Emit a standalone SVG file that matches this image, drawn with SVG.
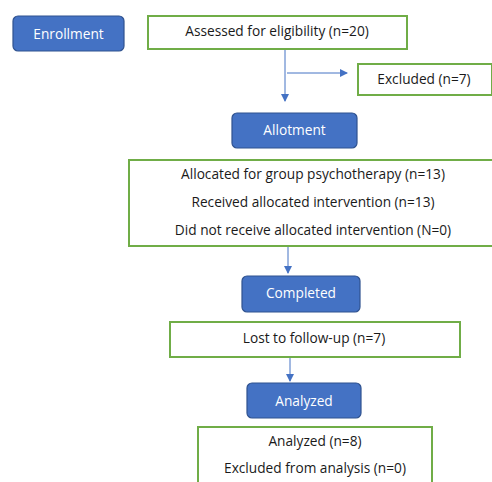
<svg xmlns="http://www.w3.org/2000/svg" width="492" height="482" viewBox="0 0 492 482">
<style>
.blue{fill:#4472C4;stroke:#2F528F;stroke-width:1.2}
.green{fill:#fff;stroke:#70AD47;stroke-width:2}
.wt{fill:#fff;font-family:"Open Sans","Liberation Sans",Arial,sans-serif;font-size:13.7px;text-anchor:middle}
.bt{fill:#1a1a1a;font-family:"Open Sans","Liberation Sans",Arial,sans-serif;font-size:13.7px;text-anchor:middle}
.ln{stroke:#4472C4;stroke-width:1;fill:none}
</style>
<defs>
<marker id="ah" markerWidth="8" markerHeight="8" refX="7" refY="4" orient="auto" markerUnits="userSpaceOnUse">
<path d="M0,0 L8,4 L0,8 z" fill="#4472C4"/>
</marker>
</defs>
<rect width="492" height="482" fill="#fff"/>
<g id="connectors">
<line class="ln" x1="285" y1="50" x2="285" y2="101" marker-end="url(#ah)"/>
<line class="ln" x1="287" y1="73" x2="347" y2="73" marker-end="url(#ah)"/>
<line class="ln" x1="288" y1="246" x2="288" y2="273" marker-end="url(#ah)"/>
<line class="ln" x1="290" y1="357" x2="290" y2="381" marker-end="url(#ah)"/>
</g>
<g id="enrollment">
<rect class="blue" x="13" y="16" width="111" height="35" rx="5"/>
<text class="wt" x="68.5" y="38.5">Enrollment</text>
</g>
<g id="assessed">
<rect class="green" x="148" y="16" width="259" height="33"/>
<text class="bt" x="277" y="35.5">Assessed for eligibility (n=20)</text>
</g>
<g id="excluded">
<rect class="green" x="358" y="64" width="134" height="31"/>
<text class="bt" x="424" y="84">Excluded (n=7)</text>
</g>
<g id="allotment">
<rect class="blue" x="232" y="113" width="125" height="35" rx="5"/>
<text class="wt" x="294.5" y="134.5">Allotment</text>
</g>
<g id="allocated">
<rect class="green" x="129" y="160" width="370" height="86"/>
<text class="bt" x="313" y="179">Allocated for group psychotherapy (n=13)</text>
<text class="bt" x="313" y="207">Received allocated intervention (n=13)</text>
<text class="bt" x="313" y="235">Did not receive allocated intervention (N=0)</text>
</g>
<g id="completed">
<rect class="blue" x="242" y="276" width="118" height="36" rx="5"/>
<text class="wt" x="301" y="297.5">Completed</text>
</g>
<g id="lost">
<rect class="green" x="170" y="322" width="290" height="35"/>
<text class="bt" x="314" y="343">Lost to follow-up (n=7)</text>
</g>
<g id="analyzed-header">
<rect class="blue" x="247" y="383" width="114" height="35" rx="5"/>
<text class="wt" x="304" y="405.5">Analyzed</text>
</g>
<g id="analyzed">
<rect class="green" x="198" y="427" width="234" height="70"/>
<text class="bt" x="315" y="446">Analyzed (n=8)</text>
<text class="bt" x="315" y="473">Excluded from analysis (n=0)</text>
</g>
</svg>
